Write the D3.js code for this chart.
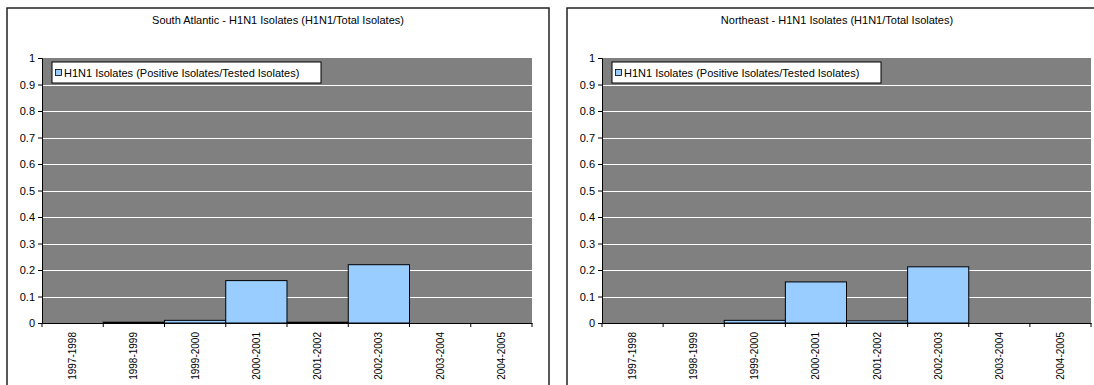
<!DOCTYPE html>
<html><head><meta charset="utf-8">
<script src="https://cdn.jsdelivr.net/npm/d3@7"></script>
<style>body{margin:0;background:#fff;}svg{display:block;font-family:Arial,"Liberation Sans",sans-serif;}</style>
</head><body>
<svg id="c" width="1094" height="385"></svg>
<script>
const categories = ["1997-1998","1998-1999","1999-2000","2000-2001","2001-2002","2002-2003","2003-2004","2004-2005"];
const southAtlantic = [0, 0.003, 0.01, 0.16, 0.003, 0.22, 0, 0];
const northeast = [0, 0, 0.01, 0.155, 0.008, 0.212, 0, 0];
const yTicks = [0,0.1,0.2,0.3,0.4,0.5,0.6,0.7,0.8,0.9,1];
const titles = ["South Atlantic - H1N1 Isolates (H1N1/Total Isolates)", "Northeast - H1N1 Isolates (H1N1/Total Isolates)"];
const legendLabel = "H1N1 Isolates (Positive Isolates/Tested Isolates)";

const svg = d3.select("#c");
const panels = [
  {frame:[7,8,542], plot:[42,532], values:southAtlantic, title:titles[0]},
  {frame:[567,8,540], plot:[602,1091], values:northeast, title:titles[1]}
];
const yTop = 58, yBot = 323;

panels.forEach(p => {
  const g = svg.append("g");
  g.append("rect").attr("x", p.frame[0]).attr("y", p.frame[1]).attr("width", p.frame[2]).attr("height", 400)
    .attr("fill", "#fff").attr("stroke", "#222").attr("stroke-width", 1.5);
  g.append("text").attr("x", p.frame[0] + p.frame[2]/2).attr("y", 24).attr("text-anchor","middle")
    .attr("font-size", 11).attr("fill","#000").text(p.title);

  const x = d3.scaleBand().domain(categories).range(p.plot).padding(0);
  const y = d3.scaleLinear().domain([0,1]).range([yBot, yTop]);

  g.append("rect").attr("x", p.plot[0]).attr("y", yTop).attr("width", p.plot[1]-p.plot[0]).attr("height", yBot-yTop).attr("fill","#808080");
  g.selectAll(".grid").data(yTicks.filter(t => t>0 && t<1)).join("line")
    .attr("x1", p.plot[0]).attr("x2", p.plot[1]).attr("y1", d=>Math.round(y(d))+0.5).attr("y2", d=>Math.round(y(d))+0.5)
    .attr("stroke","#fff").attr("stroke-width",1);

  g.selectAll(".bar").data(p.values.map((v,i)=>({c:categories[i], v}))).join("rect")
    .filter(d => d.v > 0)
    .attr("x", d => x(d.c)).attr("width", x.bandwidth())
    .attr("y", d => y(d.v)).attr("height", d => yBot - y(d.v))
    .attr("fill", "#99CCFF").attr("stroke", "#000").attr("stroke-width", 1);

  const ya = g.append("g").attr("transform", `translate(${p.plot[0]},0)`)
    .call(d3.axisLeft(y).tickValues(yTicks).tickSize(4).tickPadding(3).tickFormat(d3.format("")));
  ya.selectAll("text").attr("font-size", 11).attr("fill","#000").style("font-family","Arial,'Liberation Sans',sans-serif");
  ya.selectAll("line,path").attr("stroke","#000");

  const xa = g.append("g").attr("transform", `translate(0,${yBot})`)
    .call(d3.axisBottom(x).tickSize(0).tickSizeOuter(0));
  xa.select("path").attr("stroke","#000");
  xa.selectAll(".tick text").attr("font-size", 10).attr("fill","#000")
    .style("font-family","Arial,'Liberation Sans',sans-serif")
    .attr("transform","rotate(-90)").attr("text-anchor","end").attr("dy","0.35em").attr("x",-9).attr("y",0);
  const bounds = categories.map(c => x(c)).concat([p.plot[1]]);
  xa.selectAll(".bt").data(bounds).join("line").attr("x1",d=>d).attr("x2",d=>d).attr("y1",0).attr("y2",4).attr("stroke","#000");

  const lg = g.append("g").attr("transform", `translate(${p.plot[0]+10},62)`);
  lg.append("rect").attr("x",0).attr("y",0).attr("width",269).attr("height",21).attr("fill","#fff").attr("stroke","#000");
  lg.append("rect").attr("x",3.5).attr("y",7.5).attr("width",6).attr("height",6).attr("fill","#99CCFF").attr("stroke","#000").attr("stroke-width",0.8);
  lg.append("text").attr("x",12).attr("y",14.5).attr("font-size",11).attr("fill","#000").text(legendLabel);
});
</script>
</body></html>
